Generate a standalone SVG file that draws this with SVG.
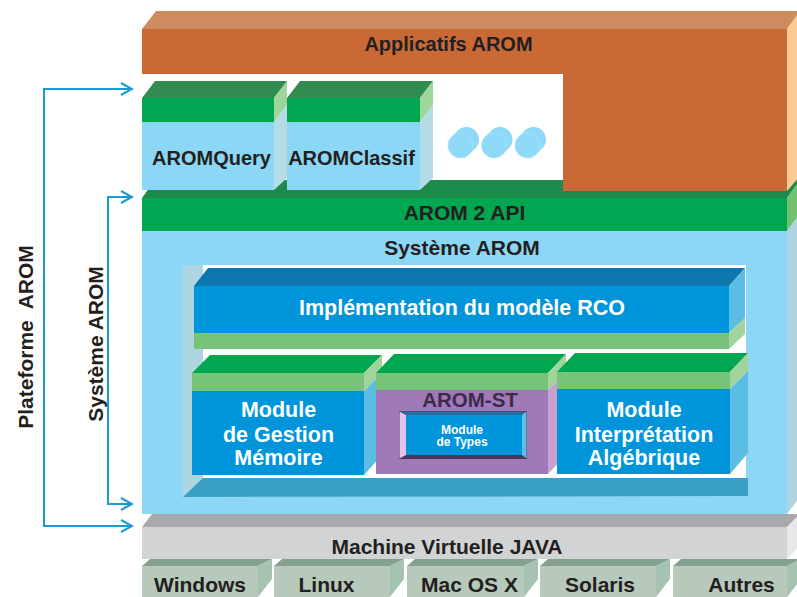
<svg xmlns="http://www.w3.org/2000/svg" width="797" height="597" viewBox="0 0 797 597">
<style>
.t{font-family:"Liberation Sans",Arial,Helvetica,sans-serif;font-weight:bold;fill:#231F20;text-anchor:middle}
.w{fill:#FFFFFF}
.pill{stroke:#8ED8F8;stroke-width:25;stroke-linecap:round;fill:none}
.pillc{fill:none;stroke:#A9E1F7;stroke-width:0.8}
.conn{fill:none;stroke:#1B9AD7;stroke-width:2}
</style>
<defs>
<marker id="chev" viewBox="-1 -1 14 14" refX="11" refY="6" markerWidth="14" markerHeight="14" markerUnits="userSpaceOnUse" orient="auto-start-reverse">
<path d="M0,0 L11,6 L0,12" fill="none" stroke="#1B9AD7" stroke-width="2"/>
</marker>
</defs>
<rect width="797" height="597" fill="#FFFFFF"/>

<g id="api-top">
<polygon points="142,198 155,180 800,180 787,198" fill="#1D894B"/>
</g>

<g id="applicatifs">
<polygon points="142,29 156,11 800,11 787,29" fill="#CD8B5F"/>
<polygon points="142,29 787,29 787,191 563,191 563,74 142,74" fill="#C96A36"/>
<polygon points="787,29 800,11 800,176 787,191" fill="#FDC994"/>
<text class="t" x="448.5" y="51" font-size="20">Applicatifs AROM</text>
</g>

<g id="aromquery">
<polygon points="142,98 155,81 287,81 274,98" fill="#318C4F"/>
<rect x="142" y="98" width="132" height="24" fill="#00A650"/>
<rect x="142" y="122" width="132" height="68" fill="#8CD7F6"/>
<polygon points="274,98 287,81 287,105 274,122" fill="#9ED59A"/>
<polygon points="274,122 287,105 287,178 274,190" fill="#B5DCE6"/>
<text class="t" x="211.5" y="165" font-size="20">AROMQuery</text>
</g>

<g id="aromclassif">
<polygon points="287,98 300,81 433,81 420,98" fill="#318C4F"/>
<rect x="287" y="98" width="133" height="24" fill="#00A650"/>
<rect x="287" y="122" width="133" height="68" fill="#8CD7F6"/>
<polygon points="420,98 433,81 433,105 420,122" fill="#9ED59A"/>
<polygon points="420,122 433,105 433,178 420,190" fill="#B5DCE6"/>
<text class="t" x="351.5" y="165" font-size="20">AROMClassif</text>
</g>

<g id="ellipsis">
<path class="pill" d="M460.5,145.5 L466.5,139.5"/>
<circle class="pillc" cx="460.5" cy="145.5" r="12.5"/>
<path class="pill" d="M494,145.5 L500,139.5"/>
<circle class="pillc" cx="494" cy="145.5" r="12.5"/>
<path class="pill" d="M527.5,145.5 L533.5,139.5"/>
<circle class="pillc" cx="527.5" cy="145.5" r="12.5"/>
</g>

<g id="arom2api">
<rect x="142" y="198" width="645" height="33" fill="#00A650"/>
<polygon points="787,198 800,180 800,214 787,231" fill="#72C173"/>
<text class="t" x="464.5" y="220" font-size="21">AROM 2 API</text>
</g>

<g id="systeme-arom">
<rect x="142" y="231" width="645" height="283" fill="#8CD7F6"/>
<polygon points="787,231 800,213 800,497 787,514" fill="#AED4E2"/>
<text class="t" x="462" y="255" font-size="21">Système AROM</text>
<rect x="203" y="265" width="543" height="213" fill="#FFFFFF"/>
<polygon points="183,265 203,265 203,478 183,497" fill="#ADD6E2"/>
<polygon points="183,497 203,478 748,478 748,496" fill="#3A9FC5"/>
</g>

<g id="rco">
<polygon points="194,286 208,268 745,268 729,286" fill="#0E77AD"/>
<rect x="194" y="286" width="535" height="47" fill="#0095DA"/>
<polygon points="729,286 745,268 745,318 729,333" fill="#5BBDE4"/>
<rect x="194" y="333" width="535" height="16" fill="#78C37A"/>
<polygon points="729,333 745,318 745,334 729,349" fill="#A0D49A"/>
<text class="t w" x="462" y="315" font-size="21.5">Implémentation du modèle RCO</text>
</g>

<g id="module-gestion">
<polygon points="192,373 210,355 382,355 364,373" fill="#00A650"/>
<rect x="192" y="373" width="172" height="18" fill="#78C37A"/>
<rect x="192" y="391" width="172" height="84" fill="#0095DA"/>
<polygon points="364,373 382,355 382,373 364,391" fill="#A0D49A"/>
<polygon points="364,391 382,373 382,455 364,475" fill="#5BBDE4"/>
<text class="t w" font-size="21.5"><tspan x="278.5" y="417">Module</tspan><tspan x="278.5" y="441.5">de Gestion</tspan><tspan x="278.5" y="465">Mémoire</tspan></text>
</g>

<g id="arom-st">
<polygon points="376,373 394,354 566,354 548,373" fill="#00A650"/>
<rect x="376" y="373" width="172" height="17" fill="#78C37A"/>
<rect x="376" y="390" width="172" height="84" fill="#A07AB6"/>
<polygon points="548,373 566,354 566,372 548,390" fill="#A0D49A"/>
<polygon points="548,390 566,372 566,455 548,474" fill="#C7A1CD"/>
<text class="t" x="470" y="407" font-size="20.5" fill="#3D2A4E" style="fill:#3D2A4E">AROM-ST</text>
</g>

<g id="module-types">
<rect x="399" y="411" width="128" height="48" fill="#4A3560"/>
<polygon points="399.5,411.5 406,415 406,455 399.5,458.5" fill="#E2C4E4"/>
<polygon points="399.5,411.5 526.5,411.5 522,415 406,415" fill="#2B6E9A"/>
<polygon points="526.5,411.5 526.5,458.5 522,455 522,415" fill="#5BC0E6"/>
<rect x="406" y="415" width="116" height="40" fill="#0095DA"/>
<text class="t w" font-size="12"><tspan x="462" y="433.5">Module</tspan><tspan x="462" y="446">de Types</tspan></text>
</g>

<g id="module-interpretation">
<polygon points="557,372 575,353 748,353 730,372" fill="#00A650"/>
<rect x="557" y="372" width="173" height="17" fill="#78C37A"/>
<rect x="557" y="389" width="173" height="85" fill="#0095DA"/>
<polygon points="730,372 748,353 748,371 730,389" fill="#A0D49A"/>
<polygon points="730,389 748,371 748,453 730,474" fill="#5BBDE4"/>
<text class="t w" font-size="21.5"><tspan x="644" y="417">Module</tspan><tspan x="644" y="441.5">Interprétation</tspan><tspan x="644" y="465">Algébrique</tspan></text>
</g>

<g id="jvm">
<polygon points="142,527 152,514 800,514 787,527" fill="#A8A9AD"/>
<rect x="142" y="527" width="645" height="32" fill="#D1D3D4"/>
<polygon points="787,527 800,514 800,546 787,559" fill="#E6E7E8"/>
<text class="t" x="447" y="554" font-size="21">Machine Virtuelle JAVA</text>
</g>

<g id="os-windows">
<polygon points="142,566 150,559 272,559 258,566" fill="#86A08F"/>
<rect x="142" y="566" width="116" height="31" fill="#B6C9BB"/>
<polygon points="258,566 272,559 272,579 258,597" fill="#A6C2B0"/>
<text class="t" x="200" y="592" font-size="21">Windows</text>
</g>
<g id="os-linux">
<polygon points="274,566 282,559 404,559 390,566" fill="#86A08F"/>
<rect x="274" y="566" width="116" height="31" fill="#B6C9BB"/>
<polygon points="390,566 404,559 404,579 390,597" fill="#A6C2B0"/>
<text class="t" x="326.5" y="592" font-size="21">Linux</text>
</g>
<g id="os-macosx">
<polygon points="407,566 415,559 538,559 524,566" fill="#86A08F"/>
<rect x="407" y="566" width="117" height="31" fill="#B6C9BB"/>
<polygon points="524,566 538,559 538,579 524,597" fill="#A6C2B0"/>
<text class="t" x="469.5" y="592" font-size="21">Mac OS X</text>
</g>
<g id="os-solaris">
<polygon points="540,566 548,559 670,559 656,566" fill="#86A08F"/>
<rect x="540" y="566" width="116" height="31" fill="#B6C9BB"/>
<polygon points="656,566 670,559 670,579 656,597" fill="#A6C2B0"/>
<text class="t" x="600" y="592" font-size="21">Solaris</text>
</g>
<g id="os-autres">
<polygon points="673,566 681,559 801,559 787,566" fill="#86A08F"/>
<rect x="673" y="566" width="114" height="31" fill="#B6C9BB"/>
<polygon points="787,566 801,559 801,579 787,597" fill="#A6C2B0"/>
<text class="t" x="741.5" y="592" font-size="21">Autres</text>
</g>

<g id="connectors">
<path class="conn" d="M132,89 H44 V526 H132" marker-start="url(#chev)" marker-end="url(#chev)"/>
<path class="conn" d="M132,197 H108 V504 H132" marker-start="url(#chev)" marker-end="url(#chev)"/>
</g>

<g id="labels">
<text class="t" font-size="21" transform="translate(33,337) rotate(-90)" x="0" y="0" xml:space="preserve">Plateforme  AROM</text>
<text class="t" font-size="21" transform="translate(103,344) rotate(-90)" x="0" y="0">Système AROM</text>
</g>
</svg>
